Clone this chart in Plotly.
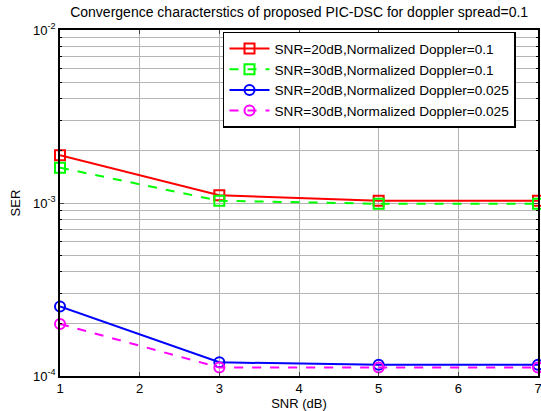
import plotly.graph_objects as go

iterations = [1, 3, 5, 7]
ser_20db_fd01 = [1.89e-3, 1.11e-3, 1.03e-3, 1.03e-3]
ser_30db_fd01 = [1.60e-3, 1.03e-3, 0.99e-3, 0.99e-3]
ser_20db_fd0025 = [2.52e-4, 1.20e-4, 1.16e-4, 1.16e-4]
ser_30db_fd0025 = [2.00e-4, 1.12e-4, 1.12e-4, 1.12e-4]

names = [
    "SNR=20dB,Normalized Doppler=0.1",
    "SNR=30dB,Normalized Doppler=0.1",
    "SNR=20dB,Normalized Doppler=0.025",
    "SNR=30dB,Normalized Doppler=0.025",
]
series = [ser_20db_fd01, ser_30db_fd01, ser_20db_fd0025, ser_30db_fd0025]
colors = ["#ff0000", "#00ff00", "#0000ff", "#ff00ff"]
dashes = ["solid", "dash", "solid", "dash"]
symbols = ["square-open", "square-open", "circle-open", "circle-open"]

x_ticks = [1, 2, 3, 4, 5, 6, 7]
y_ticks = [1e-4, 1e-3, 1e-2]
y_ticktext = ["10<sup>-4</sup>", "10<sup>-3</sup>", "10<sup>-2</sup>"]
y_minor = [m * 10.0 ** e for e in (-4, -3) for m in range(2, 10)]

fig = go.Figure()
for name, ys, c, d, s in zip(names, series, colors, dashes, symbols):
    fig.add_trace(go.Scatter(
        x=iterations, y=ys, name=name, mode="lines+markers",
        line=dict(color=c, width=2, dash=d),
        marker=dict(symbol=s, size=10, color=c, line=dict(width=2, color=c)),
        cliponaxis=False,
    ))

font = "Arial, Liberation Sans, sans-serif"
fig.update_layout(
    width=541, height=411,
    margin=dict(l=60, r=3, t=30, b=35, autoexpand=False),
    paper_bgcolor="white", plot_bgcolor="white",
    font=dict(family=font, size=13, color="black"),
    title=dict(text="Convergence characterstics of proposed PIC-DSC for doppler spread=0.1",
               x=0.553, xanchor="center", y=0.971, yanchor="middle",
               font=dict(size=14, family=font, color="black")),
    showlegend=True,
    legend=dict(x=0.341, y=0.995, xanchor="left", yanchor="top",
                bgcolor="white", bordercolor="black", borderwidth=1.5,
                font=dict(size=13.6, family=font), tracegroupgap=0,
                itemwidth=40),
    xaxis=dict(range=[1, 7], tickvals=x_ticks, ticks="inside", ticklen=4,
               showline=True, linecolor="black", linewidth=1.5, mirror="ticks",
               showgrid=True, gridcolor="#b4b4b4", gridwidth=1, zeroline=False,
               ticklabeloverflow="allow",
               title=dict(text="SNR (dB)", standoff=2, font=dict(size=13)),
               tickfont=dict(size=13)),
    yaxis=dict(type="log", range=[-4, -2], tickvals=y_ticks, ticktext=y_ticktext,
               ticks="inside", ticklen=4,
               showline=True, linecolor="black", linewidth=1.5, mirror="ticks",
               showgrid=True, gridcolor="#b4b4b4", gridwidth=1, zeroline=False,
               minor=dict(tickvals=y_minor, ticks="inside", ticklen=2, showgrid=True,
                          gridcolor="#b4b4b4", gridwidth=1, tickcolor="black"),
               title=dict(text="SER", standoff=10, font=dict(size=13)),
               tickfont=dict(size=13)),
)

fig.write_html("out.html", config={"displayModeBar": False},
               post_script="document.body.style.margin='0';document.body.style.overflow='hidden';")
